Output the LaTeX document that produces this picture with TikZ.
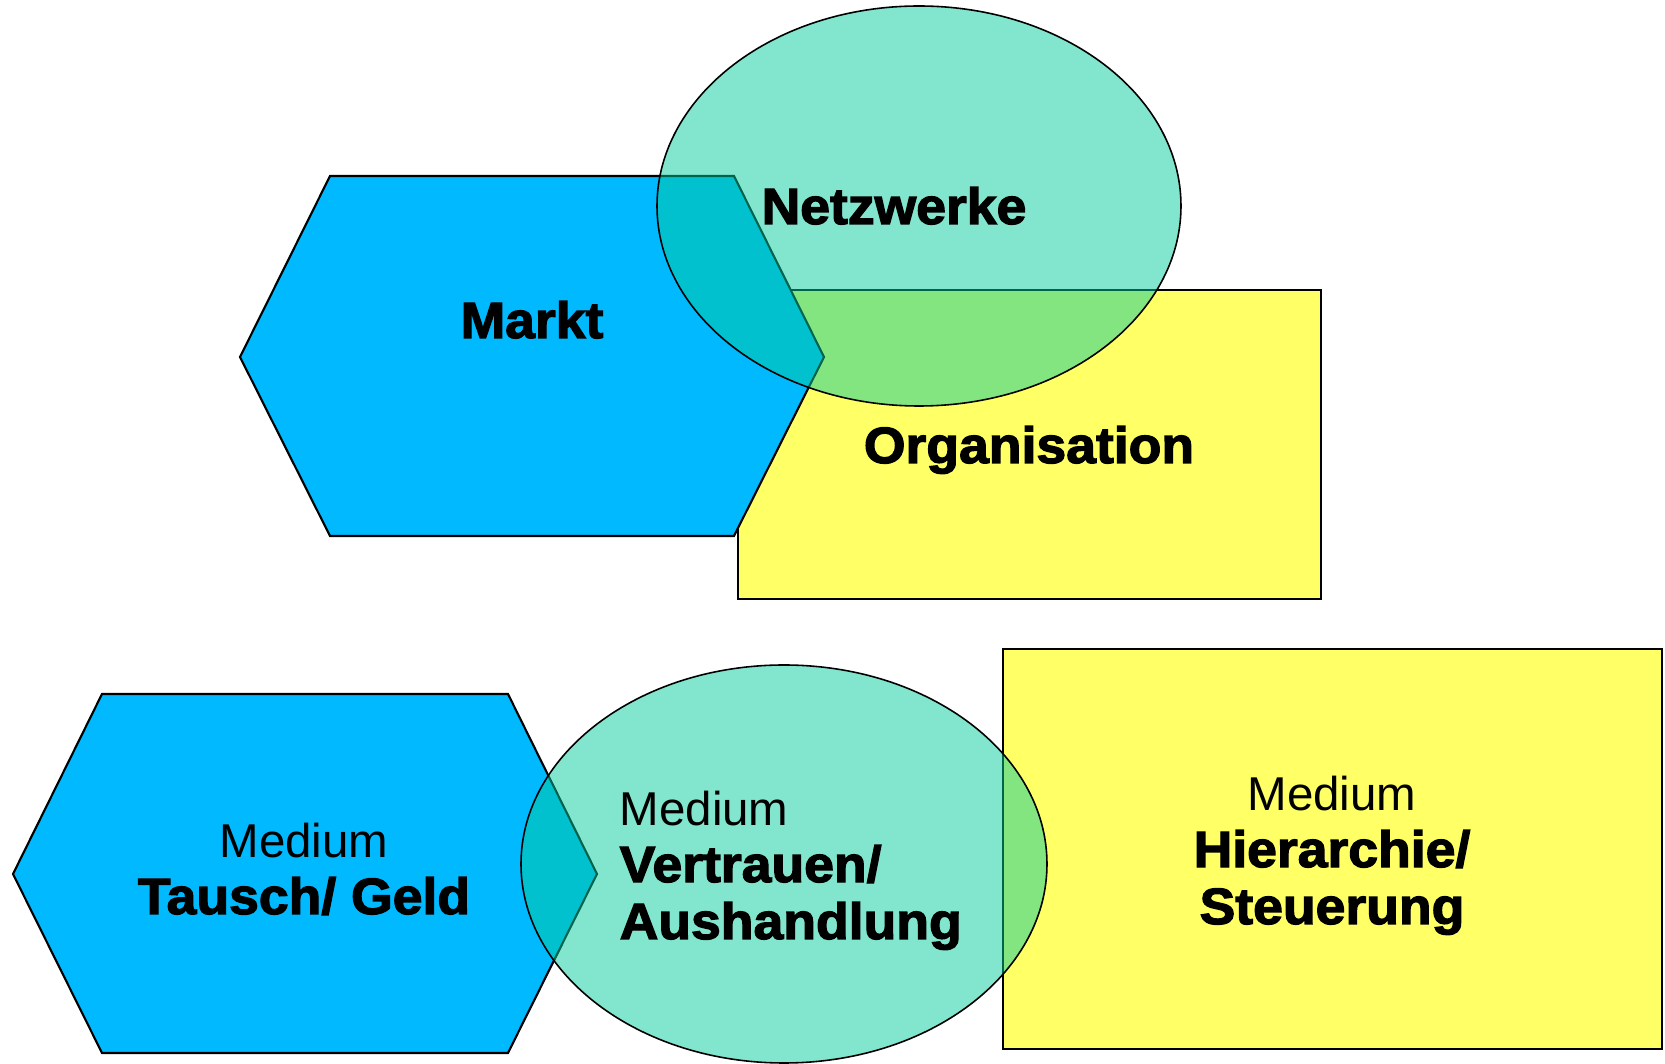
\documentclass[tikz,border=0pt]{standalone}
\usepackage{fontspec}
\setmainfont{Liberation Sans}
\newfontfamily\heavyfont{Liberation Sans Bold}[FakeBold=2.5,FakeStretch=1.05]
\usepackage{xcolor}
\usetikzlibrary{positioning,calc}

\newcommand\medtext{\normalfont\fontsize{13.5}{16.2}\selectfont}
\newcommand\heavytext{\heavyfont\fontsize{14.5}{16.2}\selectfont}

\begin{document}
\begin{tikzpicture}[
    x=0.01cm,y=-0.01cm,
    hexshape/.style={draw=black,line width=0.6pt,fill=color1},
    rectshape/.style={draw=black,line width=0.6pt,fill=color3},
    ellshape/.style={draw=black,line width=0.45pt,fill=color2,fill opacity=0.49},
    every node/.style={inner sep=0pt,text=black,font=\heavytext}
  ]

  \definecolor{color1}{HTML}{00B9FF}
  \definecolor{color2}{HTML}{00CA9B}
  \definecolor{color3}{HTML}{FFFF66}

  \useasboundingbox (0,0) rectangle (1665,1064);

  % upper group
  \draw[rectshape] (738,290) rectangle (1321,599);
  \draw[hexshape] (240,357) -- (330,176) -- (734,176) -- (824,357) -- (734,536) -- (330,536) -- cycle;
  \draw[ellshape] (919,206) ellipse[x radius=262,y radius=200];

  \node[anchor=base] (netzwerke)    at (894,224)  {Netzwerke};
  \node[anchor=base] (markt)        at (532,338)  {Markt};
  \node[anchor=base] (organisation) at (1029,463) {Organisation};

  % lower group
  \draw[hexshape] (13,874) -- (102,694) -- (508,694) -- (597,874) -- (508,1053) -- (102,1053) -- cycle;
  \draw[rectshape] (1003,649) rectangle (1662,1049);
  \draw[ellshape] (784,864) ellipse[x radius=263,y radius=199];

  % base anchor sits on the last line
  \node[anchor=base,align=center] (tausch)     at (304,914)  {{\medtext Medium}\\Tausch/ Geld};
  \node[anchor=base west,align=left] (vertrauen) at (619,939)  {{\medtext Medium}\\Vertrauen/\\Aushandlung};
  \node[anchor=base,align=center] (hierarchie) at (1332,924) {{\medtext Medium}\\Hierarchie/\\Steuerung};
\end{tikzpicture}
\end{document}
